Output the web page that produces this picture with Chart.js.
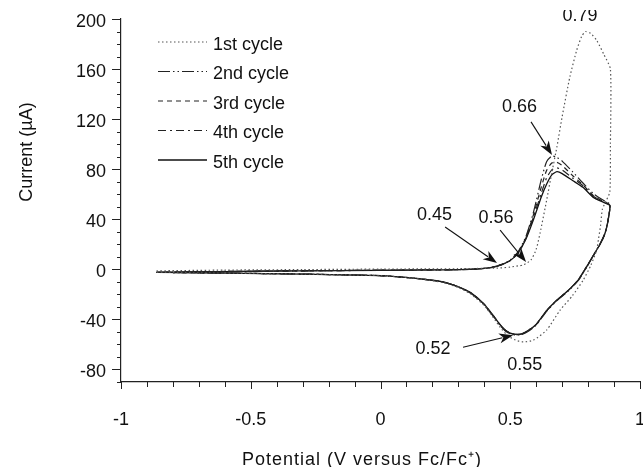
<!DOCTYPE html>
<html>
<head>
<meta charset="utf-8">
<script src="https://cdn.jsdelivr.net/npm/chart.js@4.4.1/dist/chart.umd.min.js"></script>
<style>
  html, body { margin: 0; padding: 0; background: #fff; }
  #wrap { width: 643px; height: 467px; }
</style>
</head>
<body>
<div id="wrap"><canvas id="cv" width="643" height="467"></canvas></div>
<script>
// potential (V vs Fc/Fc+) shared by cycles 2-5: forward scan then reverse scan
const potentialLoop = [
  -0.863, -0.6, -0.3, 0, 0.2, 0.3, 0.38, 0.43, 0.47, 0.5, 0.53, 0.56, 0.59, 0.62, 0.64, 0.66, 0.68, 0.70, 0.74, 0.78, 0.82, 0.86, 0.884,
  0.876, 0.864, 0.846, 0.82, 0.794, 0.76, 0.72, 0.68, 0.64, 0.6, 0.57, 0.545, 0.52, 0.5, 0.48, 0.46, 0.44, 0.4, 0.35, 0.3, 0.24, 0.15, 0.07, 0, -0.3, -0.6, -0.863
];
// current (uA)
const current2 = [
  -2.4, -1.7, -1.1, -0.7, -0.4, -0.2, 0.4, 1.7, 4.2, 7.5, 14, 26, 46, 72, 86, 90.5, 89.5, 86.5, 78, 69, 60.5, 55, 52,
  38.5, 28.5, 20.5, 11, 1.5, -9.5, -18, -25, -33.5, -44.5, -49.5, -52, -52.5, -51.5, -49, -44.5, -39, -28.5, -19.5, -14, -10, -7.5, -6, -5, -3.8, -3, -2.4
];
const current3 = [
  -2.4, -1.7, -1.2, -0.7, -0.4, -0.2, 0.4, 1.6, 4, 7, 13.5, 25, 44, 66, 79, 85, 85.5, 83, 75, 67.5, 59, 54, 51.5,
  38, 28, 20, 11, 2, -9, -17.5, -24.5, -33, -44, -49, -51.5, -52, -51, -48.5, -44, -38.5, -28, -19, -14, -10, -7.5, -6, -5, -3.8, -3, -2.4
];
const current4 = [
  -2.4, -1.8, -1.2, -0.8, -0.5, -0.3, 0.3, 1.5, 4, 7, 13, 24.5, 42, 61, 73, 79.5, 81, 79.5, 73, 67, 58.5, 54, 51,
  38, 28, 20, 11, 2, -9, -17.5, -24.5, -33, -44, -48.7, -51.5, -52, -51, -48.5, -44, -38.5, -28, -19, -14, -10, -7.5, -6, -5, -3.8, -3, -2.4
];
const current5 = [
  -2.4, -1.8, -1.2, -0.8, -0.5, -0.3, 0.3, 1.5, 4, 7, 13, 24, 40, 58, 68, 75.5, 78, 76.5, 71, 65.5, 57.5, 53.5, 51,
  38, 28, 20, 11, 2, -9, -17.5, -24.5, -33, -44, -48.7, -51.5, -52, -51, -48.5, -44, -38.5, -28, -19, -14, -10, -7.5, -6, -5, -3.8, -3, -2.4
];
// first cycle has its own potentials (bigger oxidation wave)
const potential1 = [
  -0.863, -0.6, -0.3, 0, 0.3, 0.45, 0.5, 0.53, 0.55, 0.58, 0.6, 0.615, 0.64, 0.66, 0.68, 0.70, 0.73, 0.756, 0.775, 0.79, 0.81, 0.833, 0.86, 0.886,
  0.886, 0.884, 0.87, 0.855, 0.848, 0.84, 0.833, 0.81, 0.781, 0.74, 0.692, 0.64, 0.589, 0.55, 0.52, 0.49, 0.46, 0.44, 0.4, 0.35, 0.3, 0.24, 0.15, 0.07, 0, -0.3, -0.6, -0.863
];
const current1 = [
  -1.2, -0.6, -0.2, 0.2, 0.5, 1, 1.8, 2.8, 3.5, 7.5, 16, 29, 55, 77, 98, 122, 154, 175, 186, 190, 188.5, 183, 172, 160,
  100, 62, 55, 48, 35, 24, 15.5, 3, -8.6, -21, -32.6, -48.6, -56.6, -58, -56.5, -53, -46, -40, -29, -20, -14.5, -10.5, -7.5, -6, -5, -3.8, -3, -2.4
];
const cycleNames = ['1st cycle', '2nd cycle', '3rd cycle', '4th cycle', '5th cycle'];
const xTickValues = [-1, -0.5, 0, 0.5, 1];
const yTickValues = [-80, -40, 0, 40, 80, 120, 160, 200];

// peak annotations (text centre x, baseline y in data units)
const peakLabels = ['0.79', '0.66', '0.45', '0.56', '0.52', '0.55'];
const peakLabelX = [0.769, 0.536, 0.208, 0.445, 0.202, 0.556];
const peakLabelY = [198.6, 125.8, 39.4, 37.3, -67.8, -80.6];
// arrows: tail -> tip
const arrowFromX = [0.580, 0.249, 0.461, 0.318];
const arrowFromY = [117.8, 33.8, 31.4, -62.2];
const arrowToX = [0.661, 0.449, 0.561, 0.511];
const arrowToY = [91.4, 5.0, 5.8, -52.6];

const FONT = "'Liberation Sans', Arial, Helvetica, sans-serif";
const styles = [
  { color: '#555', dash: [1.5, 2.5], width: 1.2 },
  { color: '#222', dash: [12, 3, 1.5, 3, 1.5, 3], width: 1.2 },
  { color: '#222', dash: [5, 4], width: 1.2 },
  { color: '#222', dash: [8, 4, 2, 4], width: 1.2 },
  { color: '#111', dash: [], width: 1.3 }
];

function pts(xs, ys) { return xs.map((v, i) => ({ x: v, y: ys[i] })); }

const series = [
  pts(potential1, current1),
  pts(potentialLoop, current2),
  pts(potentialLoop, current3),
  pts(potentialLoop, current4),
  pts(potentialLoop, current5)
];

const datasets = series.map((d, i) => ({
  label: cycleNames[i],
  data: d,
  showLine: true,
  borderColor: styles[i].color,
  borderDash: styles[i].dash,
  borderWidth: styles[i].width,
  pointRadius: 0,
  tension: 0.2,
  fill: false
}));

function drawArrow(ctx, x1, y1, x2, y2) {
  const a = Math.atan2(y2 - y1, x2 - x1);
  const len = 14, hw = 5;
  const bx = x2 - Math.cos(a) * len, by = y2 - Math.sin(a) * len;
  ctx.beginPath();
  ctx.moveTo(x1, y1);
  ctx.lineTo(bx + Math.cos(a) * 3, by + Math.sin(a) * 3);
  ctx.stroke();
  ctx.beginPath();
  ctx.moveTo(x2, y2);
  ctx.lineTo(bx - Math.sin(a) * hw, by + Math.cos(a) * hw);
  ctx.lineTo(bx + Math.cos(a) * 4, by + Math.sin(a) * 4);
  ctx.lineTo(bx + Math.sin(a) * hw, by - Math.cos(a) * hw);
  ctx.closePath();
  ctx.fill();
}

const overlay = {
  id: 'overlay',
  afterDraw(chart) {
    const ctx = chart.ctx;
    const x = chart.scales.x, y = chart.scales.y;
    const area = chart.chartArea;
    ctx.save();
    ctx.strokeStyle = '#222';
    ctx.lineWidth = 1;
    ctx.setLineDash([]);
    // minor / major ticks
    for (let i = -9; i <= 20; i++) {
      const py = Math.round(y.getPixelForValue(i * 10)) + 0.5;
      const len = (i * 10) % 40 === 0 ? 9 : 4;
      ctx.beginPath();
      ctx.moveTo(area.left - len, py);
      ctx.lineTo(area.left, py);
      ctx.stroke();
    }
    for (let i = -10; i <= 10; i++) {
      const px = Math.round(x.getPixelForValue(i / 10)) + 0.5;
      const len = i % 5 === 0 ? 7 : 5;
      ctx.beginPath();
      ctx.moveTo(px, area.bottom);
      ctx.lineTo(px, area.bottom + len);
      ctx.stroke();
    }

    // legend inside plot
    ctx.font = '18px ' + FONT;
    ctx.fillStyle = '#111';
    ctx.textAlign = 'left';
    ctx.textBaseline = 'alphabetic';
    chart.data.datasets.forEach((ds, i) => {
      const ry = area.top + 23 + i * 29.5;
      ctx.strokeStyle = ds.borderColor;
      ctx.lineWidth = ds.borderWidth;
      ctx.setLineDash(ds.borderDash);
      ctx.beginPath();
      ctx.moveTo(area.left + 37, ry);
      ctx.lineTo(area.left + 86, ry);
      ctx.stroke();
      ctx.fillText(ds.label, area.left + 92, ry + 7.5);
    });
    ctx.setLineDash([]);

    // peak labels
    ctx.textAlign = 'center';
    peakLabels.forEach((t, i) => {
      const px = x.getPixelForValue(peakLabelX[i]);
      const py = y.getPixelForValue(peakLabelY[i]);
      ctx.save();
      if (i === 0) { ctx.beginPath(); ctx.rect(0, 10, chart.width, chart.height); ctx.clip(); }
      ctx.fillText(t, px, py);
      ctx.restore();
    });
    // arrows
    ctx.strokeStyle = '#111';
    ctx.fillStyle = '#111';
    ctx.lineWidth = 1.1;
    arrowFromX.forEach((v, i) => {
      drawArrow(ctx,
        x.getPixelForValue(v), y.getPixelForValue(arrowFromY[i]),
        x.getPixelForValue(arrowToX[i]), y.getPixelForValue(arrowToY[i]));
    });

    // axis titles
    ctx.fillStyle = '#111';
    ctx.font = '18px ' + FONT;
    ctx.textAlign = 'center';
    ctx.textBaseline = 'alphabetic';
    ctx.letterSpacing = '1px';
    ctx.fillText('Potential (V versus Fc/Fc\u207A)', 362, 465);
    ctx.letterSpacing = '0px';
    ctx.translate(32, 152);
    ctx.rotate(-Math.PI / 2);
    ctx.fillText('Current (\u00B5A)', 0, 0);
    ctx.restore();
  }
};

new Chart(document.getElementById('cv'), {
  type: 'scatter',
  data: { datasets: datasets },
  options: {
    responsive: false,
    animation: false,
    layout: { padding: { top: 19, right: 3, left: 0, bottom: 0 } },
    plugins: { legend: { display: false }, tooltip: { enabled: false } },
    scales: {
      x: {
        type: 'linear',
        min: -1, max: 1,
        afterBuildTicks: s => { s.ticks = xTickValues.map(v => ({ value: v })); },
        afterFit: s => { s.height = 85; s.paddingRight = 3; s.paddingLeft = 0; },
        grid: { drawOnChartArea: false, drawTicks: false },
        border: { display: true, color: '#222', width: 1.2 },
        ticks: { color: '#111', font: { size: 18, family: FONT }, padding: 27, maxRotation: 0,
                 callback: v => String(v) }
      },
      y: {
        type: 'linear',
        min: -90, max: 200,
        afterBuildTicks: s => { s.ticks = yTickValues.map(v => ({ value: v })); },
        afterFit: s => { s.width = 121; s.paddingTop = 0; s.paddingBottom = 0; },
        grid: { drawOnChartArea: false, drawTicks: false },
        border: { display: true, color: '#222', width: 1.2 },
        ticks: { color: '#111', font: { size: 18, family: FONT }, padding: 15, labelOffset: 3,
                 callback: v => String(v) }
      }
    }
  },
  plugins: [overlay]
});
</script>
</body>
</html>
